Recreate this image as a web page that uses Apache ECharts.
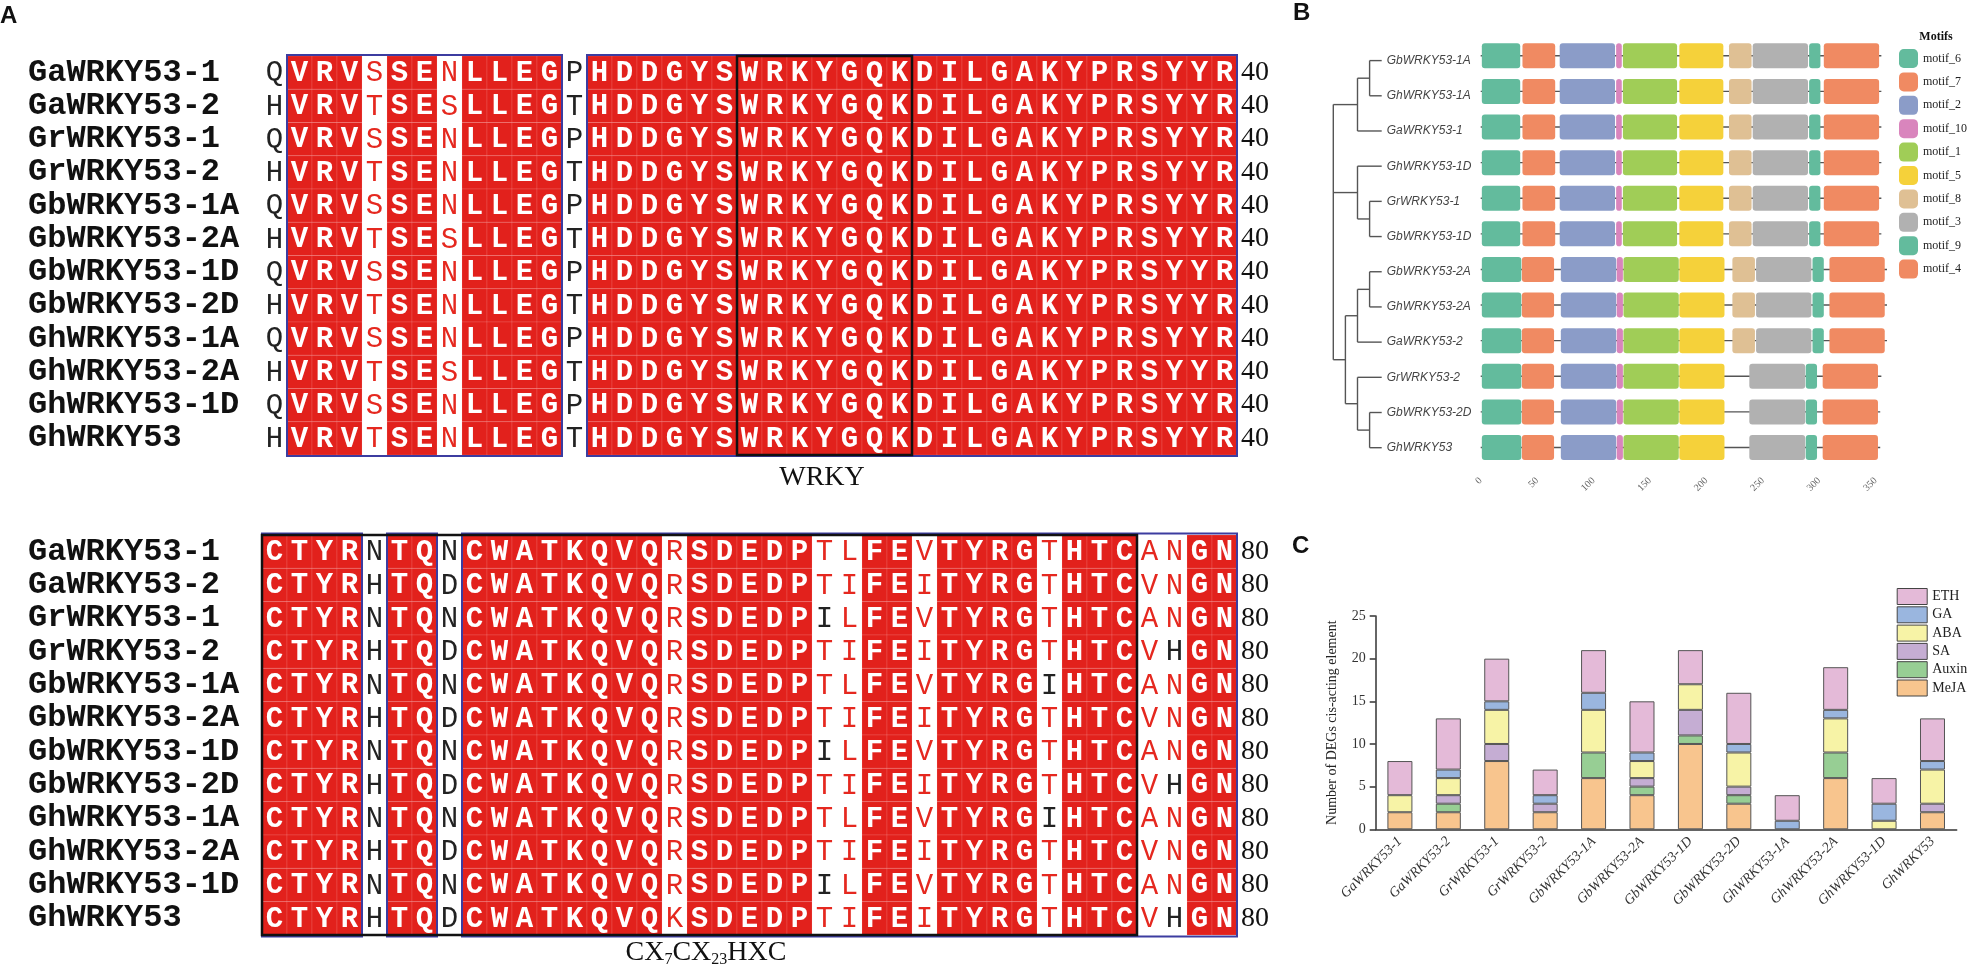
<!DOCTYPE html>
<html>
<head>
<meta charset="utf-8">
<title>WRKY53</title>
<script src="https://cdn.jsdelivr.net/npm/echarts@6/dist/echarts.min.js"></script>
<style>
html, body { margin: 0; padding: 0; background: #fff; }
#main { width: 1972px; height: 969px; }
</style>
</head>
<body>
<div id="main"></div>
<script>
// ---------- A: alignment ----------
const seqNames = ['GaWRKY53-1', 'GaWRKY53-2', 'GrWRKY53-1', 'GrWRKY53-2', 'GbWRKY53-1A', 'GbWRKY53-2A',
  'GbWRKY53-1D', 'GbWRKY53-2D', 'GhWRKY53-1A', 'GhWRKY53-2A', 'GhWRKY53-1D', 'GhWRKY53'];
const seqTop = [
  'QVRVSSENLLEGPHDDGYSWRKYGQKDILGAKYPRSYYR',
  'HVRVTSESLLEGTHDDGYSWRKYGQKDILGAKYPRSYYR',
  'QVRVSSENLLEGPHDDGYSWRKYGQKDILGAKYPRSYYR',
  'HVRVTSENLLEGTHDDGYSWRKYGQKDILGAKYPRSYYR',
  'QVRVSSENLLEGPHDDGYSWRKYGQKDILGAKYPRSYYR',
  'HVRVTSESLLEGTHDDGYSWRKYGQKDILGAKYPRSYYR',
  'QVRVSSENLLEGPHDDGYSWRKYGQKDILGAKYPRSYYR',
  'HVRVTSENLLEGTHDDGYSWRKYGQKDILGAKYPRSYYR',
  'QVRVSSENLLEGPHDDGYSWRKYGQKDILGAKYPRSYYR',
  'HVRVTSESLLEGTHDDGYSWRKYGQKDILGAKYPRSYYR',
  'QVRVSSENLLEGPHDDGYSWRKYGQKDILGAKYPRSYYR',
  'HVRVTSENLLEGTHDDGYSWRKYGQKDILGAKYPRSYYR'
];
const seqBottom = [
  'CTYRNTQNCWATKQVQRSDEDPTLFEVTYRGTHTCANGN',
  'CTYRHTQDCWATKQVQRSDEDPTIFEITYRGTHTCVNGN',
  'CTYRNTQNCWATKQVQRSDEDPILFEVTYRGTHTCANGN',
  'CTYRHTQDCWATKQVQRSDEDPTIFEITYRGTHTCVHGN',
  'CTYRNTQNCWATKQVQRSDEDPTLFEVTYRGIHTCANGN',
  'CTYRHTQDCWATKQVQRSDEDPTIFEITYRGTHTCVNGN',
  'CTYRNTQNCWATKQVQRSDEDPILFEVTYRGTHTCANGN',
  'CTYRHTQDCWATKQVQRSDEDPTIFEITYRGTHTCVHGN',
  'CTYRNTQNCWATKQVQRSDEDPTLFEVTYRGIHTCANGN',
  'CTYRHTQDCWATKQVQRSDEDPTIFEITYRGTHTCVNGN',
  'CTYRNTQNCWATKQVQRSDEDPILFEVTYRGTHTCANGN',
  'CTYRHTQDCWATKQVQKSDEDPTIFEITYRGTHTCVHGN'
];
const endTop = 40;
const endBottom = 80;
// similarity boxes (column ranges, 0-based, end exclusive)
const simBoxesTop = [[1, 12], [13, 39]];
const simBoxesBottom = [[0, 4], [5, 7], [8, 39]];
const domainBoxTop = [[19, 26]];      // WRKY
const domainBoxBottom = [[0, 35]];    // CX7CX23HXC
const blackResTop = {};
const blackResBottom = { 22: 'I', 31: 'I', 36: 'H' };

// ---------- B: tree + motifs ----------
const treeOrder = ['GbWRKY53-1A', 'GhWRKY53-1A', 'GaWRKY53-1', 'GhWRKY53-1D', 'GrWRKY53-1', 'GbWRKY53-1D',
  'GbWRKY53-2A', 'GhWRKY53-2A', 'GaWRKY53-2', 'GrWRKY53-2', 'GbWRKY53-2D', 'GhWRKY53'];
const tree = { d: 0, c: [
  { d: 2, c: [{ d: 3, c: ['GbWRKY53-1A', 'GhWRKY53-1A'] }, 'GaWRKY53-1'] },
  { d: 2, c: ['GhWRKY53-1D', { d: 3, c: ['GrWRKY53-1', 'GbWRKY53-1D'] }] },
  { d: 1, c: [
    { d: 2, c: [{ d: 3, c: ['GbWRKY53-2A', 'GhWRKY53-2A'] }, 'GaWRKY53-2'] },
    { d: 2, c: ['GrWRKY53-2', { d: 3, c: ['GbWRKY53-2D', 'GhWRKY53'] }] }
  ] }
] };
const motifNames = ['motif_6', 'motif_7', 'motif_2', 'motif_10', 'motif_1', 'motif_5', 'motif_8', 'motif_3', 'motif_9', 'motif_4'];
const motifStart1 = [1, 37, 70, 120, 126, 176, 220, 241, 291, 304];
const motifEnd1   = [35, 66, 119, 125, 174, 215, 240, 290, 301, 353];
const motifStart2 = [1, 36.5, 71, 120.5, 126.5, 176, 223, 244, 294, 309];
const motifEnd2   = [36, 65, 120, 126, 175.5, 216, 243, 293, 304, 358];
const motifStart3 = [1, 36.5, 71, 120.5, 126.5, 176, null, 238, 288, 303];
const motifEnd3   = [36, 65, 120, 126, 175.5, 216, null, 287.5, 298, 352];
const rowGroup = [0, 0, 0, 0, 0, 0, 1, 1, 1, 2, 2, 2];
const proteinLength = [355, 355, 355, 355, 355, 355, 360, 360, 360, 355, 354, 354];
const motifTicks = [0, 50, 100, 150, 200, 250, 300, 350];

// ---------- C: cis-acting elements ----------
const geneC = ['GaWRKY53-1', 'GaWRKY53-2', 'GrWRKY53-1', 'GrWRKY53-2', 'GbWRKY53-1A', 'GbWRKY53-2A',
  'GbWRKY53-1D', 'GbWRKY53-2D', 'GhWRKY53-1A', 'GhWRKY53-2A', 'GhWRKY53-1D', 'GhWRKY53'];
const MeJA  = [2, 2, 8, 2, 6, 4, 10, 3, 0, 6, 0, 2];
const Auxin = [0, 1, 0, 0, 3, 1, 1, 1, 0, 3, 0, 0];
const SA    = [0, 1, 2, 1, 0, 1, 3, 1, 0, 0, 0, 1];
const ABA   = [2, 2, 4, 0, 5, 2, 3, 4, 0, 4, 1, 4];
const GA    = [0, 1, 1, 1, 2, 1, 0, 1, 1, 1, 2, 1];
const ETH   = [4, 6, 5, 3, 5, 6, 4, 6, 3, 5, 3, 5];

// ---------- styles ----------
const RED = '#e2211c';
const RED_TXT = '#e5281f';
const BLUE = '#3c3ca0';
const motifColors = ['#63bb9d', '#f08a62', '#8b9cc8', '#d985bd', '#a0cd57', '#f5d13a', '#dfc094', '#b1b1b1', '#63bb9d', '#f08a62'];
const cisColors = { MeJA: '#f8c58e', Auxin: '#97ce94', SA: '#c5add3', ABA: '#f7f3a6', GA: '#9ab6df', ETH: '#e4bad8' };

const chart = echarts.init(document.getElementById('main'));

function buildCells(seqs, boxes, blackRes) {
  const cells = [];
  const ncol = seqs[0].length;
  for (let c = 0; c < ncol; c++) {
    const col = seqs.map(s => s[c]);
    const conserved = col.every(ch => ch === col[0]);
    const inBox = boxes.some(b => c >= b[0] && c < b[1]);
    col.forEach((ch, r) => {
      let kind = 'plain';
      if (inBox && conserved) kind = 'cons';
      else if (inBox && blackRes[c] !== ch) kind = 'sim';
      cells.push({ col: c, row: r, ch: ch, kind: kind });
    });
  }
  return cells;
}

function cellSeries(cells, xi, yi) {
  return {
    type: 'custom', xAxisIndex: xi, yAxisIndex: yi, z: 2, silent: true,
    data: cells.map(c => [c.col, c.row]),
    encode: { x: 0, y: 1 },
    renderItem: function (params, api) {
      const cell = cells[params.dataIndex];
      const p = api.coord([cell.col, cell.row]);
      const w = api.size([1, 0])[0];
      const h = api.size([0, 1])[1];
      const kids = [];
      if (cell.kind === 'cons') {
        kids.push({ type: 'rect', shape: { x: p[0], y: p[1] - h / 2, width: w, height: h },
          style: { fill: RED, stroke: 'rgba(255,210,210,0.25)', lineWidth: 0.6 } });
      }
      kids.push({ type: 'text', style: {
        text: cell.ch, x: p[0] + w / 2, y: p[1] + 1, align: 'center', verticalAlign: 'middle',
        fontFamily: 'Liberation Mono', fontSize: 29,
        fontWeight: cell.kind === 'cons' ? 'bold' : 'normal',
        fill: cell.kind === 'cons' ? '#fff' : (cell.kind === 'sim' ? RED_TXT : '#222')
      } });
      return { type: 'group', children: kids };
    }
  };
}

function boxSeries(boxes, xi, yi, color, lw, pad, z) {
  return {
    type: 'custom', xAxisIndex: xi, yAxisIndex: yi, z: z, silent: true,
    data: boxes.map(b => [b[0], b[1], 0]),
    encode: { x: [0, 1], y: 2 },
    renderItem: function (params, api) {
      const s = api.coord([api.value(0), 0]);
      const e = api.coord([api.value(1), 0]);
      const cs = params.coordSys;
      return { type: 'rect', shape: { x: s[0], y: cs.y - pad, width: e[0] - s[0], height: cs.height + 2 * pad },
        style: { fill: 'none', stroke: color, lineWidth: lw } };
    }
  };
}

// tree segments from the nested structure
const treeSegs = [];
function layoutTree(node) {
  if (typeof node === 'string') return { y: treeOrder.indexOf(node), d: 4 };
  const kids = node.c.map(layoutTree);
  kids.forEach(k => treeSegs.push([node.d, k.y, k.d, k.y]));
  const ys = kids.map(k => k.y);
  const y0 = Math.min.apply(null, ys), y1 = Math.max.apply(null, ys);
  treeSegs.push([node.d, y0, node.d, y1]);
  return { y: (y0 + y1) / 2, d: node.d };
}
layoutTree(tree);

const groupStart = [motifStart1, motifStart2, motifStart3];
const groupEnd = [motifEnd1, motifEnd2, motifEnd3];

const cellsTop = buildCells(seqTop, simBoxesTop, blackResTop);
const cellsBottom = buildCells(seqBottom, simBoxesBottom, blackResBottom);

const nameLabel = { interval: 0, align: 'left', margin: 234, fontFamily: 'Liberation Mono', fontWeight: 'bold', fontSize: 32, color: '#111' };
const endLabel = { interval: 0, margin: 4, fontFamily: 'Liberation Serif', fontSize: 28, color: '#111' };

const series = [
  cellSeries(cellsTop, 0, 0),
  boxSeries(simBoxesTop, 0, 0, BLUE, 2, 1, 3),
  boxSeries(domainBoxTop, 0, 0, '#111', 2.5, 0, 4),
  cellSeries(cellsBottom, 1, 2),
  boxSeries(simBoxesBottom, 1, 2, BLUE, 2, 1.5, 3),
  boxSeries(domainBoxBottom, 1, 2, '#111', 2.5, 0, 4),
  {
    type: 'custom', xAxisIndex: 3, yAxisIndex: 5, silent: true,
    data: treeSegs, encode: { x: [0, 2], y: [1, 3] },
    renderItem: function (params, api) {
      const a = api.coord([api.value(0), api.value(1)]);
      const b = api.coord([api.value(2), api.value(3)]);
      return { type: 'line', shape: { x1: a[0], y1: a[1], x2: b[0], y2: b[1] },
        style: { stroke: '#555', lineWidth: 1.4 } };
    }
  },
  {
    type: 'custom', xAxisIndex: 2, yAxisIndex: 4, silent: true, z: 1,
    data: proteinLength.map((len, r) => [0, len, r]), encode: { x: [0, 1], y: 2 },
    renderItem: function (params, api) {
      const a = api.coord([api.value(0), api.value(2)]);
      const b = api.coord([api.value(1), api.value(2)]);
      return { type: 'line', shape: { x1: a[0], y1: a[1], x2: b[0], y2: b[1] },
        style: { stroke: '#555', lineWidth: 1.4 } };
    }
  }
];

motifNames.forEach(function (m, k) {
  const data = [];
  treeOrder.forEach(function (name, r) {
    const g = rowGroup[r];
    if (groupStart[g][k] != null) data.push([groupStart[g][k], groupEnd[g][k], r]);
  });
  series.push({
    name: m, type: 'custom', xAxisIndex: 2, yAxisIndex: 4, z: 2,
    itemStyle: { color: motifColors[k] },
    data: data, encode: { x: [0, 1], y: 2 },
    renderItem: function (params, api) {
      const s = api.coord([api.value(0), api.value(2)]);
      const e = api.coord([api.value(1), api.value(2)]);
      const h = 25;
      return { type: 'rect', shape: { x: s[0], y: s[1] - h / 2, width: e[0] - s[0], height: h, r: 3 },
        style: { fill: api.visual('color') } };
    }
  });
});

const cisSeries = [['MeJA', MeJA], ['Auxin', Auxin], ['SA', SA], ['ABA', ABA], ['GA', GA], ['ETH', ETH]];
cisSeries.forEach(function (s) {
  series.push({
    name: s[0], type: 'bar', stack: 'cis', xAxisIndex: 4, yAxisIndex: 6, barWidth: 25,
    itemStyle: { color: cisColors[s[0]], borderColor: '#555', borderWidth: 1 },
    data: s[1].map(v => (v === 0 ? '-' : v))
  });
});

const option = {
  backgroundColor: '#fff',
  animation: false,
  grid: [
    { left: 262, top: 56, width: 975, height: 399 },
    { left: 262, top: 535, width: 975, height: 400 },
    { left: 1480.7, top: 38, width: 406.3, height: 427.3 },
    { left: 1333.3, top: 60.6, width: 48.4, height: 387.1 },
    { left: 1375.7, top: 616, width: 581, height: 213.3 }
  ],
  xAxis: [
    { gridIndex: 0, type: 'value', min: 0, max: 39, show: false },
    { gridIndex: 1, type: 'value', min: 0, max: 39, show: false },
    { gridIndex: 2, type: 'value', min: 0, max: 360, offset: 5.7,
      splitLine: { show: false },
      axisLine: { lineStyle: { color: '#777', width: 1.5 } },
      axisTick: { length: 5, lineStyle: { color: '#777' }, customValues: motifTicks },
      axisLabel: { rotate: 45, margin: 8, fontSize: 10, fontFamily: 'Liberation Serif', color: '#666', customValues: motifTicks } },
    { gridIndex: 3, type: 'value', min: 0, max: 4, show: false },
    { gridIndex: 4, type: 'category', data: geneC,
      axisLine: { lineStyle: { color: '#333', width: 1.5 } },
      axisTick: { alignWithLabel: true, length: 7, lineStyle: { color: '#333', width: 1.5 } },
      axisLabel: { interval: 0, rotate: 45, margin: 10, fontSize: 14, fontStyle: 'italic', fontFamily: 'Liberation Serif', color: '#333' } }
  ],
  yAxis: [
    { gridIndex: 0, type: 'category', data: seqNames, inverse: true, axisLine: { show: false }, axisTick: { show: false }, axisLabel: nameLabel },
    { gridIndex: 0, type: 'category', data: seqNames, inverse: true, position: 'right', axisLine: { show: false }, axisTick: { show: false },
      axisLabel: Object.assign({ formatter: () => String(endTop) }, endLabel) },
    { gridIndex: 1, type: 'category', data: seqNames, inverse: true, axisLine: { show: false }, axisTick: { show: false }, axisLabel: nameLabel },
    { gridIndex: 1, type: 'category', data: seqNames, inverse: true, position: 'right', axisLine: { show: false }, axisTick: { show: false },
      axisLabel: Object.assign({ formatter: () => String(endBottom) }, endLabel) },
    { gridIndex: 2, type: 'category', data: treeOrder, inverse: true, axisLine: { show: false }, axisTick: { show: false }, axisLabel: { show: false } },
    { gridIndex: 3, type: 'value', min: 0, max: 11, interval: 1, inverse: true, position: 'right',
      axisLine: { show: false }, axisTick: { show: false }, splitLine: { show: false },
      axisLabel: { formatter: v => treeOrder[v] || '', margin: 5, fontSize: 12, fontStyle: 'italic', fontFamily: 'Liberation Sans', color: '#444' } },
    { gridIndex: 4, type: 'value', min: 0, max: 25, interval: 5,
      name: 'Number of DEGs cis-acting element', nameLocation: 'middle', nameGap: 36,
      nameTextStyle: { fontFamily: 'Liberation Serif', fontSize: 14, color: '#222' },
      splitLine: { show: false },
      axisLine: { show: true, lineStyle: { color: '#333', width: 1.5 } },
      axisTick: { show: true, length: 6, lineStyle: { color: '#333', width: 1.5 } },
      axisLabel: { margin: 10, fontFamily: 'Liberation Serif', fontSize: 14, color: '#333' } }
  ],
  legend: [
    { data: motifNames, orient: 'vertical', left: 1899, top: 49, itemWidth: 19, itemHeight: 19, itemGap: 4.4,
      icon: 'roundRect', selectedMode: false, itemStyle: { borderWidth: 0 }, padding: 0,
      textStyle: { fontFamily: 'Liberation Serif', fontSize: 12, color: '#222' } },
    { data: ['ETH', 'GA', 'ABA', 'SA', 'Auxin', 'MeJA'], orient: 'vertical', left: 1896.7, top: 588,
      itemWidth: 30, itemHeight: 16, itemGap: 1.3, icon: 'rect', selectedMode: false, padding: 0,
      itemStyle: { borderColor: '#444', borderWidth: 1 },
      textStyle: { fontFamily: 'Liberation Serif', fontSize: 14, color: '#222' } }
  ],
  graphic: [
    { type: 'text', x: 0, y: 4, style: { text: 'A', fontFamily: 'Liberation Sans', fontWeight: 'bold', fontSize: 24, fill: '#111' } },
    { type: 'text', x: 1293, y: 1, style: { text: 'B', fontFamily: 'Liberation Sans', fontWeight: 'bold', fontSize: 24, fill: '#111' } },
    { type: 'text', x: 1292, y: 534, style: { text: 'C', fontFamily: 'Liberation Sans', fontWeight: 'bold', fontSize: 24, fill: '#111' } },
    { type: 'text', x: 1936, y: 37, style: { text: 'Motifs', align: 'center', verticalAlign: 'middle', fontFamily: 'Liberation Serif', fontWeight: 'bold', fontSize: 12, fill: '#111' } },
    { type: 'text', x: 822, y: 478, style: { text: 'WRKY', align: 'center', verticalAlign: 'middle', fontFamily: 'Liberation Serif', fontSize: 28, fill: '#111' } },
    { type: 'text', x: 706, y: 953, style: {
      text: '{b|CX}{s|7}{b|CX}{s|23}{b|HXC}', align: 'center', verticalAlign: 'middle',
      rich: {
        b: { fontFamily: 'Liberation Serif', fontSize: 28, lineHeight: 30, fill: '#111' },
        s: { fontFamily: 'Liberation Serif', fontSize: 16, lineHeight: 16, verticalAlign: 'bottom', fill: '#111' }
      } } }
  ],
  series: series
};

chart.setOption(option);
</script>
</body>
</html>
